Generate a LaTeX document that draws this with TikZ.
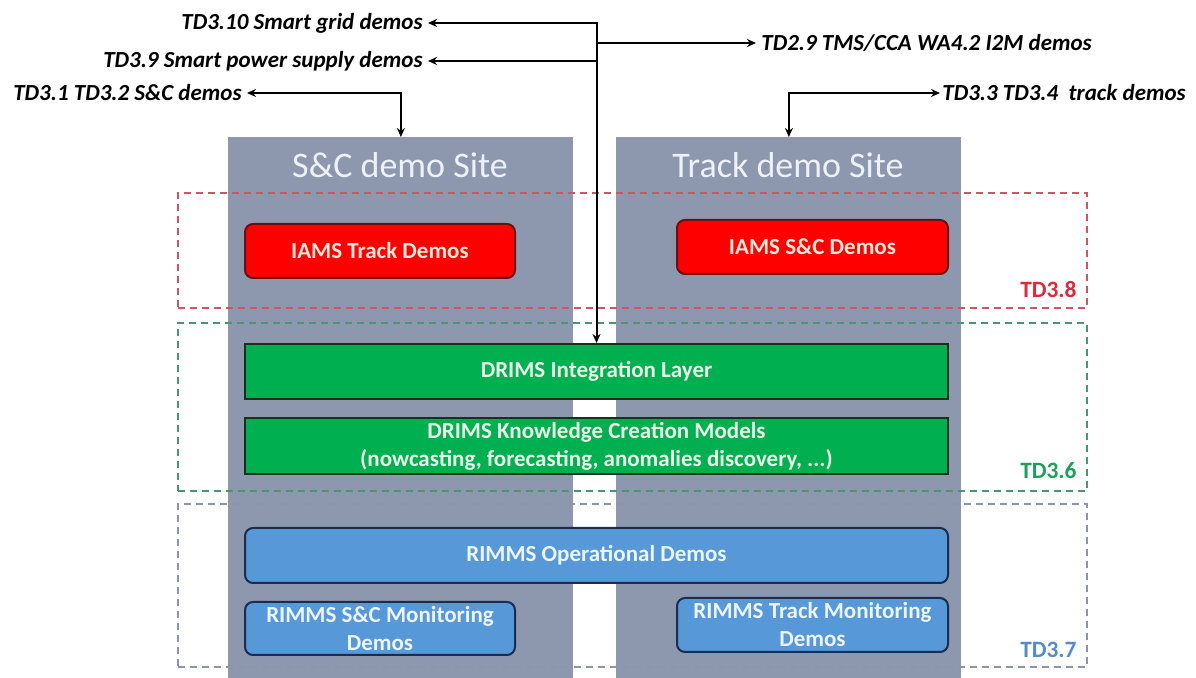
\documentclass[tikz,border=0pt]{standalone}
\usepackage{fontspec}
\setmainfont{Carlito}
\usetikzlibrary{arrows.meta}
\definecolor{colgray}{RGB}{141,152,175}
\definecolor{titlecol}{RGB}{238,241,247}
\definecolor{redfill}{RGB}{255,0,0}
\definecolor{redborder}{RGB}{110,15,15}
\definecolor{redtext}{RGB}{253,233,217}
\definecolor{greenfill}{RGB}{0,176,80}
\definecolor{greenborder}{RGB}{20,50,30}
\definecolor{greentext}{RGB}{232,245,232}
\definecolor{bluefill}{RGB}{86,152,216}
\definecolor{blueborder}{RGB}{25,45,80}
\definecolor{bluetext}{RGB}{236,244,252}
\definecolor{reddash}{RGB}{205,85,100}
\definecolor{greendash}{RGB}{75,150,110}
\definecolor{graydash}{RGB}{140,150,168}
\definecolor{redlab}{RGB}{222,40,60}
\definecolor{greenlab}{RGB}{30,160,90}
\definecolor{bluelab}{RGB}{85,140,200}
\tikzset{
  column/.style={fill=colgray, draw=none, inner sep=0pt, anchor=north west},
  coltitle/.style={text=titlecol, font=\fontsize{18}{20}\selectfont, inner sep=0pt},
  zone/.style={dashed, dash pattern=on 3.5pt off 2.5pt, line width=0.8pt, inner sep=0pt, anchor=north west},
  boxbase/.style={inner sep=0pt, anchor=north west, align=center, line width=1pt,
     font=\fontsize{11.5}{14}\selectfont\bfseries},
  redbox/.style={boxbase, fill=redfill, draw=redborder, rounded corners=4pt, text=redtext},
  greenbox/.style={boxbase, fill=greenfill, draw=greenborder, text=greentext},
  bluebox/.style={boxbase, fill=bluefill, draw=blueborder, rounded corners=4pt, text=bluetext},
  toplab/.style={font=\fontsize{11.5}{14}\selectfont\bfseries\itshape, inner sep=2.5pt},
  zonelab/.style={font=\fontsize{11.7}{14}\selectfont\bfseries, inner sep=0pt, anchor=east},
  conn/.style={line width=1pt, {Stealth[length=4.5pt,width=4pt]}-{Stealth[length=4.5pt,width=4pt]}},
  conn1/.style={line width=1pt, -{Stealth[length=4.5pt,width=4pt]}},
}
\begin{document}
\begin{tikzpicture}[x=0.5pt,y=-0.5pt]
\useasboundingbox (0,0) rectangle (1196,678);
% columns
\node[column, minimum width=172.5pt, minimum height=270.5pt] (colL) at (228,137) {};
\node[column, minimum width=172.5pt, minimum height=270.5pt] (colR) at (616,137) {};
\node[coltitle] (titleL) at (400,165) {S\&C demo Site};
\node[coltitle] (titleR) at (788,165) {Track demo Site};
% dashed zones
\node[zone, draw=reddash, minimum width=454.5pt, minimum height=57.5pt] (zone38) at (177,192) {};
\node[zone, draw=greendash, minimum width=454.5pt, minimum height=84pt] (zone36) at (177,322) {};
\node[zone, draw=graydash, minimum width=454.5pt, minimum height=81.5pt] (zone37) at (177,503) {};
\node[zonelab, text=redlab] (lab38) at (1077,290) {TD3.8};
\node[zonelab, text=greenlab] (lab36) at (1077,471) {TD3.6};
\node[zonelab, text=bluelab] (lab37) at (1077,650) {TD3.7};
% boxes
\node[redbox, minimum width=135pt, minimum height=27pt] (iamsT) at (244,223) {IAMS Track Demos};
\node[redbox, minimum width=135.5pt, minimum height=27pt] (iamsS) at (676,219) {IAMS S\&C Demos};
\node[greenbox, minimum width=351.5pt, minimum height=27.5pt] (drimsI) at (244,343) {DRIMS Integration Layer};
\node[greenbox, minimum width=351.5pt, minimum height=28pt] (drimsK) at (244,417) {DRIMS Knowledge Creation Models\\(nowcasting, forecasting, anomalies discovery, ...)};
\node[bluebox, minimum width=351.5pt, minimum height=27.5pt] (rimmsO) at (244,527) {RIMMS Operational Demos};
\node[bluebox, minimum width=135pt, minimum height=26.5pt] (rimmsS) at (244,601) {RIMMS S\&C Monitoring\\Demos};
\node[bluebox, minimum width=135.5pt, minimum height=27pt] (rimmsT) at (676,597) {RIMMS Track Monitoring\\Demos};
% top labels
\node[toplab, anchor=east] (td310) at (428,23) {TD3.10 Smart grid demos};
\node[toplab, anchor=east] (td39) at (428,61) {TD3.9 Smart power supply demos};
\node[toplab, anchor=east] (td31) at (247,93) {TD3.1 TD3.2 S\&C demos};
\node[toplab, anchor=west] (td29) at (756,43) {TD2.9 TMS/CCA WA4.2 I2M demos};
\node[toplab, anchor=west, inner sep=1pt] (td33) at (940,93) {TD3.3 TD3.4\ \ track demos};
% connectors
\draw[conn] (td310.east) -| (drimsI.north);
\draw[conn1] (td39.east -| drimsI.north) -- (td39.east);
\draw[conn1] (td29.west -| drimsI.north) -- (td29.west);
\draw[conn] (td31.east) -| (colL.north);
\draw[conn] (colR.north) |- (td33.west);
\end{tikzpicture}
\end{document}
